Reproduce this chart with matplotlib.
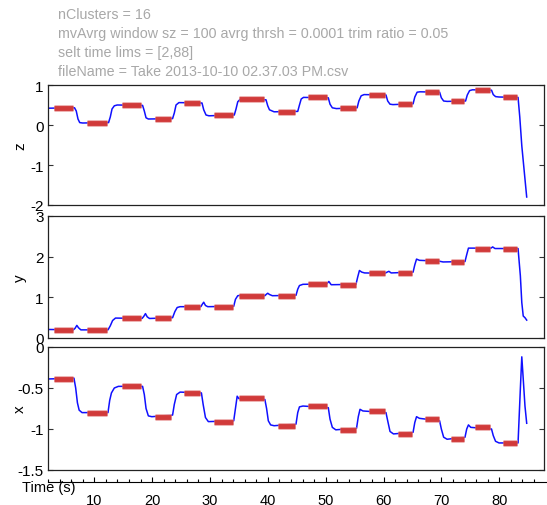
import matplotlib
matplotlib.use("Agg")
import matplotlib.pyplot as plt
from matplotlib.ticker import FixedLocator

plt.rcParams['font.family'] = ['Liberation Sans', 'DejaVu Sans']
plt.rcParams['axes.unicode_minus'] = False

# header text lines
header = ["nClusters = 16",
          "mvAvrg window sz = 100 avrg thrsh = 0.0001 trim ratio = 0.05",
          "selt time lims = [2,88]",
          "fileName = Take 2013-10-10 02.37.03 PM.csv"]

# cluster plateaus (start time, end time, value per coordinate)
clu_t0 = [3.0, 8.7, 14.9, 20.5, 25.5, 30.7, 35.1, 41.8, 47.0, 52.6, 57.65, 62.7, 67.3, 71.8, 76.0, 80.9]
clu_t1 = [6.4, 12.25, 18.2, 23.4, 28.4, 34.0, 39.5, 44.9, 50.3, 55.35, 60.4, 65.1, 69.75, 74.2, 78.7, 83.3]
clu_z = [0.43, 0.06, 0.49, 0.15, 0.56, 0.24, 0.64, 0.33, 0.69, 0.42, 0.76, 0.52, 0.83, 0.59, 0.875, 0.70]
clu_y = [0.19, 0.19, 0.48, 0.48, 0.76, 0.76, 1.04, 1.04, 1.33, 1.31, 1.59, 1.60, 1.89, 1.86, 2.20, 2.20]
clu_x = [-0.39, -0.80, -0.475, -0.85, -0.555, -0.91, -0.625, -0.96, -0.72, -1.01, -0.78, -1.06,
         -0.875, -1.125, -0.98, -1.175]

# smoothed trajectories (time, value)
z_line = [(2.0, 0.42), (6.6, 0.43), (6.9, 0.35), (7.2, 0.15), (7.5, 0.06), (8.0, 0.05), (12.5, 0.06),
          (12.8, 0.2), (13.1, 0.4), (13.5, 0.48), (14.0, 0.5), (18.4, 0.49), (18.7, 0.35), (19.0, 0.18),
          (19.4, 0.15), (23.6, 0.16), (23.9, 0.3), (24.2, 0.5), (24.7, 0.56), (28.7, 0.55), (29.0, 0.38),
          (29.4, 0.25), (29.9, 0.23), (34.3, 0.25), (34.6, 0.4), (34.9, 0.58), (35.3, 0.64), (39.8, 0.63),
          (40.1, 0.48), (40.4, 0.38), (41.2, 0.33), (45.3, 0.34), (45.6, 0.5), (45.9, 0.65), (46.3, 0.69),
          (50.6, 0.68), (50.9, 0.52), (51.3, 0.43), (52.0, 0.41), (55.6, 0.43), (55.9, 0.6), (56.3, 0.73),
          (56.8, 0.76), (60.6, 0.75), (60.9, 0.6), (61.3, 0.52), (61.8, 0.51), (65.3, 0.53), (65.6, 0.7),
          (66.0, 0.82), (66.5, 0.83), (69.9, 0.82), (70.2, 0.68), (70.6, 0.6), (71.2, 0.59), (74.4, 0.6),
          (74.7, 0.75), (75.1, 0.86), (75.6, 0.88), (78.9, 0.87), (79.2, 0.76), (79.6, 0.71), (80.2, 0.70),
          (83.5, 0.69), (83.8, 0.2), (84.15, -0.52), (84.7, -1.35), (85.0, -1.8)]

y_line = [(2.0, 0.21), (6.4, 0.2), (6.7, 0.24), (7.0, 0.31), (7.3, 0.25), (7.7, 0.2), (12.4, 0.2),
          (12.8, 0.3), (13.2, 0.43), (13.7, 0.49), (18.3, 0.48), (18.6, 0.53), (18.9, 0.6), (19.2, 0.52),
          (19.6, 0.48), (23.6, 0.5), (24.0, 0.65), (24.4, 0.75), (24.9, 0.77), (28.5, 0.77), (28.8, 0.84),
          (29.0, 0.88), (29.3, 0.8), (29.7, 0.77), (34.2, 0.78), (34.5, 0.95), (34.9, 1.04), (35.4, 1.05),
          (39.6, 1.04), (39.9, 1.08), (40.1, 1.1), (40.4, 1.07), (40.9, 1.04), (45.0, 1.05), (45.3, 1.2),
          (45.6, 1.29), (46.2, 1.32), (50.3, 1.33), (50.7, 1.39), (51.1, 1.31), (55.4, 1.32), (55.7, 1.5),
          (56.0, 1.66), (56.4, 1.62), (56.9, 1.6), (60.4, 1.59), (60.8, 1.62), (61.1, 1.64), (61.5, 1.6),
          (65.3, 1.62), (65.6, 1.8), (65.9, 1.94), (66.4, 1.91), (69.8, 1.89), (70.5, 1.87), (74.3, 1.88),
          (74.6, 2.05), (74.9, 2.21), (75.5, 2.21), (78.8, 2.21), (79.1, 2.24), (79.5, 2.2), (83.5, 2.2),
          (83.9, 1.53), (84.15, 0.87), (84.4, 0.54), (84.7, 0.5), (85.0, 0.44)]

x_line = [(2.0, -0.39), (6.5, -0.38), (6.8, -0.5), (7.1, -0.68), (7.4, -0.77), (7.9, -0.80), (12.4, -0.8),
          (12.7, -0.65), (13.0, -0.56), (13.5, -0.5), (14.2, -0.48), (18.4, -0.48), (18.7, -0.58),
          (19.0, -0.75), (19.4, -0.84), (20.0, -0.85), (23.6, -0.83), (23.9, -0.7), (24.3, -0.58),
          (24.9, -0.55), (28.6, -0.56), (28.9, -0.7), (29.3, -0.86), (29.8, -0.91), (34.2, -0.9),
          (34.5, -0.75), (34.8, -0.6), (35.1, -0.63), (35.6, -0.625), (39.6, -0.64), (39.9, -0.75),
          (40.2, -0.9), (40.6, -0.95), (41.2, -0.96), (45.0, -0.94), (45.3, -0.8), (45.6, -0.73),
          (46.2, -0.72), (50.6, -0.74), (50.9, -0.88), (51.3, -0.98), (51.9, -1.01), (55.5, -0.99),
          (55.8, -0.85), (56.1, -0.76), (56.6, -0.78), (60.6, -0.8), (60.9, -0.9), (61.3, -1.03),
          (61.9, -1.06), (65.3, -1.04), (65.6, -0.92), (65.9, -0.85), (66.4, -0.87), (69.9, -0.9),
          (70.2, -1.0), (70.6, -1.1), (71.2, -1.125), (74.3, -1.1), (74.6, -1.0), (74.9, -0.95),
          (75.3, -0.98), (78.9, -1.0), (79.2, -1.08), (79.6, -1.15), (80.2, -1.17), (83.5, -1.17),
          (83.9, -0.51), (84.15, -0.12), (84.4, -0.39), (84.7, -0.72), (85.0, -0.93)]

W, H = 547, 506
fig = plt.figure(figsize=(W / 100, H / 100), dpi=100)

# header in grey
for i, line in enumerate(header):
    fig.text(58 / W, 1 - (19 + 19 * i) / H, line, color='#a8a8a8', fontsize=10.25, va='baseline')

# panel boxes in pixels: (top, bottom)
panels = [
    ('z', z_line, clu_z, (86, 206), (-2, 1), [-2, -1, 0, 1]),
    ('y', y_line, clu_y, (217, 339), (0, 3), [0, 1, 2, 3]),
    ('x', x_line, clu_x, (348, 471), (-1.5, 0), [-1.5, -1, -0.5, 0]),
]

for name, line, clu, (top, bot), ylim, yticks in panels:
    ax = fig.add_axes([48 / W, 1 - bot / H, 496 / W, (bot - top) / H])
    t, v = zip(*line)
    ax.plot(t, v, color='#1010ff', lw=1.1, zorder=2)
    for a, b, c in zip(clu_t0, clu_t1, clu):
        ax.plot([a, b], [c, c], color='#eba5a5', lw=4.8, solid_capstyle='butt', zorder=3)
        ax.plot([a, b], [c, c], color='#d13a3a', lw=3.5, solid_capstyle='butt', zorder=4)
    ax.set_xlim(2, 88)
    ax.set_ylim(*ylim)
    ax.yaxis.set_major_locator(FixedLocator(yticks))
    ax.set_yticklabels(['%g' % k for k in yticks])
    ax.set_xticks([])
    ax.tick_params(axis='y', direction='in', length=3.6, width=0.8, left=True, right=True,
                   labelsize=11, pad=3, color='#333333')
    for s in ax.spines.values():
        s.set_linewidth(0.9)
        s.set_color('#222222')
    ax.set_ylabel(name, fontsize=11, rotation=90)
    ax.yaxis.set_label_coords(-0.042, 0.5)

# separate time axis below the panels
tax = fig.add_axes([48 / W, 1 - 483 / H, 498 / W, 0.0001])
tax.patch.set_alpha(0)
for k in ['top', 'left', 'right']:
    tax.spines[k].set_visible(False)
tax.spines['bottom'].set_linewidth(0.8)
tax.set_xlim(2, 2 + 498 / 5.786)
tax.set_yticks([])
tax.xaxis.set_major_locator(FixedLocator([10, 20, 30, 40, 50, 60, 70, 80]))
tax.xaxis.set_minor_locator(FixedLocator(list(range(2, 88, 2))))
tax.tick_params(axis='x', which='major', direction='in', length=3.3, width=0.8, labelsize=10.5, pad=8)
tax.tick_params(axis='x', which='minor', direction='in', length=2.0, width=0.8)
fig.text(22 / W, 1 - 492 / H, "Time (s)", fontsize=10.5, va='baseline')

fig.savefig('out.png', dpi=100)
